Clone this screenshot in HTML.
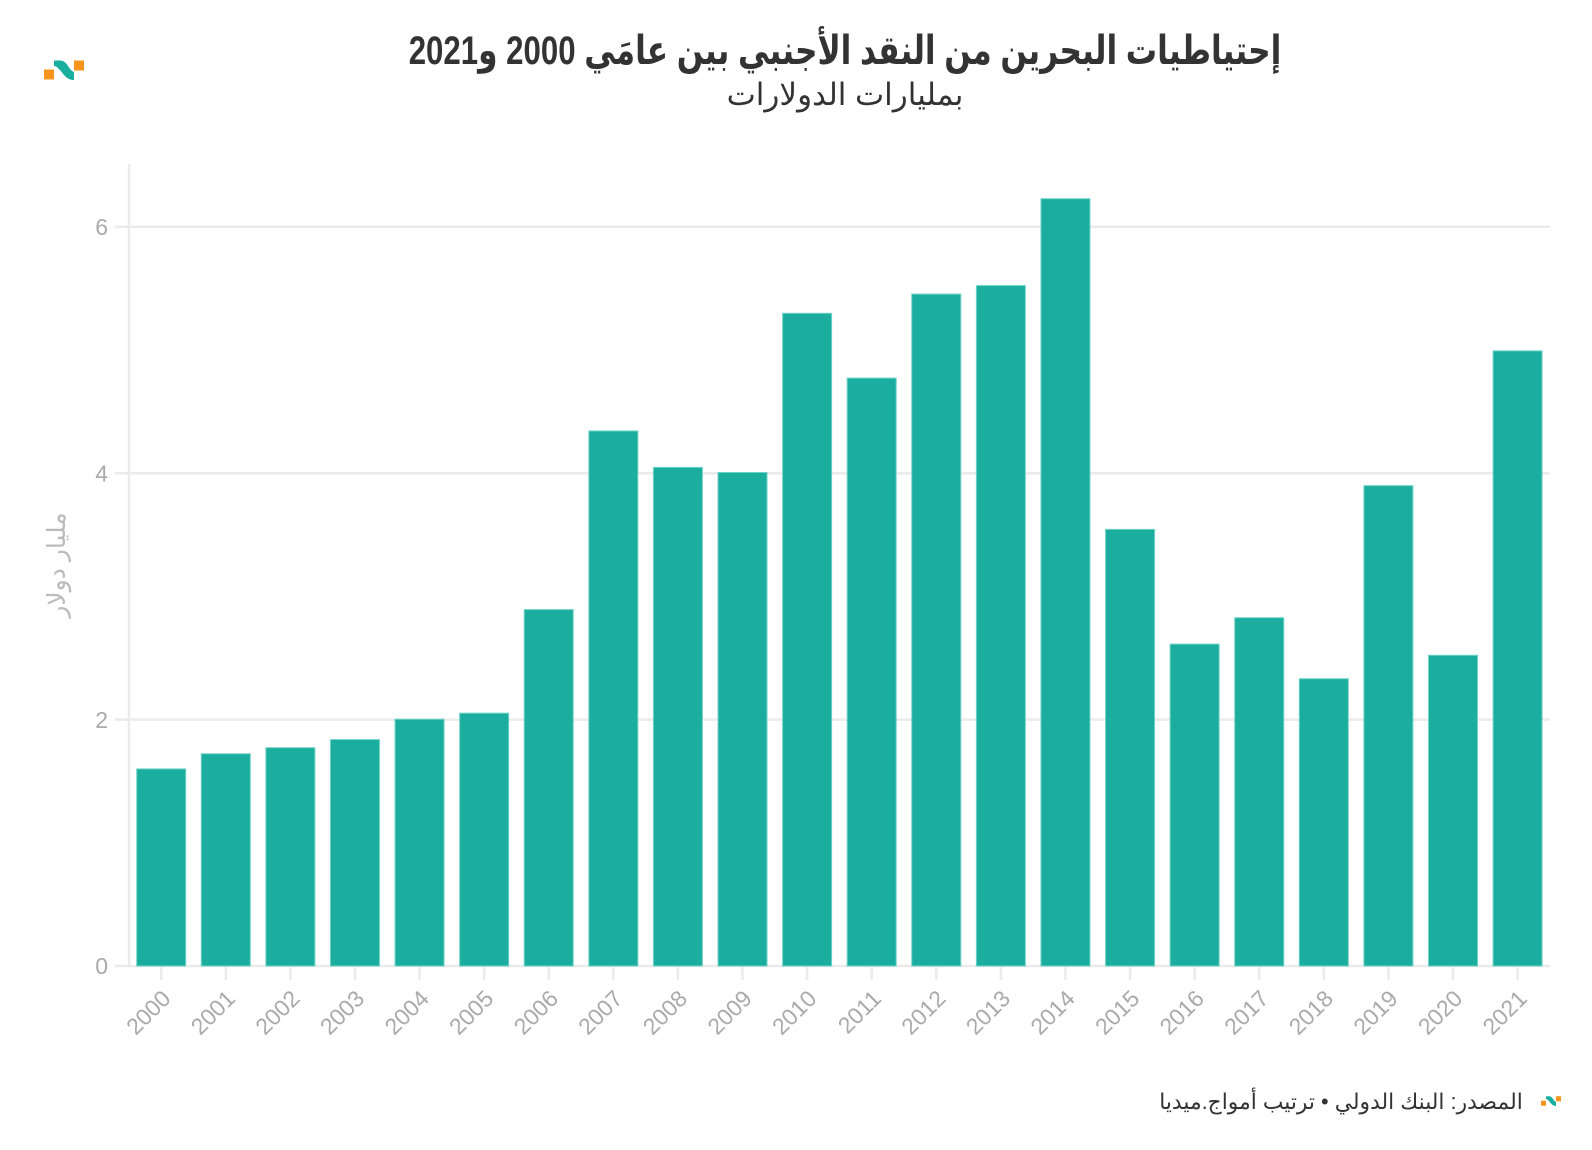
<!DOCTYPE html>
<html><head><meta charset="utf-8"><style>
html,body{margin:0;padding:0;background:#fff;}
svg{display:block;}
</style></head><body>
<svg width="1592" height="1150" viewBox="0 0 1592 1150" xmlns="http://www.w3.org/2000/svg" font-family="'Liberation Sans','DejaVu Sans',sans-serif">
<rect width="1592" height="1150" fill="#fff"/>
<!-- logo -->
<g id="logo">
<rect x="44" y="69.5" width="10" height="10" fill="#f7941d"/>
<rect x="74" y="60.5" width="10" height="10" fill="#f7941d"/>
<path d="M54,60.5 L61,60.5 Q65,61 68,66 Q71,71 74,72 L74,80 Q68,80 64,75 Q61,71 58,68 Q56,66 54,66 Z" fill="#1aae9f"/>
</g>
<g transform="translate(1519,1066) scale(0.5)">
<rect x="44" y="69.5" width="10" height="10" fill="#f7941d"/>
<rect x="74" y="60.5" width="10" height="10" fill="#f7941d"/>
<path d="M54,60.5 L61,60.5 Q65,61 68,66 Q71,71 74,72 L74,80 Q68,80 64,75 Q61,71 58,68 Q56,66 54,66 Z" fill="#1aae9f"/>
</g>
<!-- titles -->
<text transform="translate(845,64) scale(0.78,1)" x="0" y="0" text-anchor="middle" direction="rtl" font-size="40" font-weight="bold" fill="#333">إحتياطيات البحرين من النقد الأجنبي بين عامَي 2000 و2021</text>
<text x="845" y="105" text-anchor="middle" direction="rtl" font-size="31" fill="#333">بمليارات الدولارات</text>
<!-- grid -->
<g stroke="#ebebeb" stroke-width="2.5">
<line x1="115" y1="226.8" x2="1550" y2="226.8"/>
<line x1="115" y1="473.2" x2="1550" y2="473.2"/>
<line x1="115" y1="719.6" x2="1550" y2="719.6"/>
<line x1="115" y1="966" x2="1550" y2="966"/>
<line x1="129" y1="164" x2="129" y2="967"/>
</g>
<g stroke="#ebebeb" stroke-width="2.5">
<line x1="161.2" y1="966" x2="161.2" y2="980"/>
<line x1="225.79" y1="966" x2="225.79" y2="980"/>
<line x1="290.38" y1="966" x2="290.38" y2="980"/>
<line x1="354.97" y1="966" x2="354.97" y2="980"/>
<line x1="419.56" y1="966" x2="419.56" y2="980"/>
<line x1="484.15" y1="966" x2="484.15" y2="980"/>
<line x1="548.74" y1="966" x2="548.74" y2="980"/>
<line x1="613.33" y1="966" x2="613.33" y2="980"/>
<line x1="677.92" y1="966" x2="677.92" y2="980"/>
<line x1="742.51" y1="966" x2="742.51" y2="980"/>
<line x1="807.1" y1="966" x2="807.1" y2="980"/>
<line x1="871.69" y1="966" x2="871.69" y2="980"/>
<line x1="936.28" y1="966" x2="936.28" y2="980"/>
<line x1="1000.87" y1="966" x2="1000.87" y2="980"/>
<line x1="1065.46" y1="966" x2="1065.46" y2="980"/>
<line x1="1130.05" y1="966" x2="1130.05" y2="980"/>
<line x1="1194.64" y1="966" x2="1194.64" y2="980"/>
<line x1="1259.23" y1="966" x2="1259.23" y2="980"/>
<line x1="1323.82" y1="966" x2="1323.82" y2="980"/>
<line x1="1388.41" y1="966" x2="1388.41" y2="980"/>
<line x1="1453" y1="966" x2="1453" y2="980"/>
<line x1="1517.59" y1="966" x2="1517.59" y2="980"/>
</g>
<!-- y labels -->
<g font-size="23" fill="#aaa" text-anchor="end">
<text x="108" y="235">6</text>
<text x="108" y="481.5">4</text>
<text x="108" y="728">2</text>
<text x="108" y="974">0</text>
</g>
<text transform="translate(65,565) rotate(-90)" text-anchor="middle" direction="rtl" font-size="25" fill="#bbb">مليار دولار</text>
<!-- bars -->
<g fill="#1bae9f" stroke="#6fd3c8" stroke-width="1">
<rect x="136.7" y="768.88" width="49" height="197.12"/>
<rect x="201.29" y="753.73" width="49" height="212.27"/>
<rect x="265.88" y="747.69" width="49" height="218.31"/>
<rect x="330.47" y="739.56" width="49" height="226.44"/>
<rect x="395.06" y="719.23" width="49" height="246.77"/>
<rect x="459.65" y="713.19" width="49" height="252.81"/>
<rect x="524.24" y="609.58" width="49" height="356.42"/>
<rect x="588.83" y="430.94" width="49" height="535.06"/>
<rect x="653.42" y="467.41" width="49" height="498.59"/>
<rect x="718.01" y="472.46" width="49" height="493.54"/>
<rect x="782.6" y="313.29" width="49" height="652.71"/>
<rect x="847.19" y="378.09" width="49" height="587.91"/>
<rect x="911.78" y="294.07" width="49" height="671.93"/>
<rect x="976.37" y="285.57" width="49" height="680.43"/>
<rect x="1040.96" y="198.71" width="49" height="767.29"/>
<rect x="1105.55" y="529.38" width="49" height="436.62"/>
<rect x="1170.14" y="644.08" width="49" height="321.92"/>
<rect x="1234.73" y="617.71" width="49" height="348.29"/>
<rect x="1299.32" y="678.7" width="49" height="287.3"/>
<rect x="1363.91" y="485.64" width="49" height="480.36"/>
<rect x="1428.5" y="655.29" width="49" height="310.71"/>
<rect x="1493.09" y="350.86" width="49" height="615.14"/>
</g>
<!-- x labels -->
<g font-size="23" fill="#aaa" text-anchor="end">
<text transform="translate(172,1000) rotate(-45)">2000</text>
<text transform="translate(236.6,1000) rotate(-45)">2001</text>
<text transform="translate(301.2,1000) rotate(-45)">2002</text>
<text transform="translate(365.8,1000) rotate(-45)">2003</text>
<text transform="translate(430.4,1000) rotate(-45)">2004</text>
<text transform="translate(494.9,1000) rotate(-45)">2005</text>
<text transform="translate(559.5,1000) rotate(-45)">2006</text>
<text transform="translate(624.1,1000) rotate(-45)">2007</text>
<text transform="translate(688.7,1000) rotate(-45)">2008</text>
<text transform="translate(753.3,1000) rotate(-45)">2009</text>
<text transform="translate(817.9,1000) rotate(-45)">2010</text>
<text transform="translate(882.5,1000) rotate(-45)">2011</text>
<text transform="translate(947.1,1000) rotate(-45)">2012</text>
<text transform="translate(1011.7,1000) rotate(-45)">2013</text>
<text transform="translate(1076.3,1000) rotate(-45)">2014</text>
<text transform="translate(1140.9,1000) rotate(-45)">2015</text>
<text transform="translate(1205.4,1000) rotate(-45)">2016</text>
<text transform="translate(1270,1000) rotate(-45)">2017</text>
<text transform="translate(1334.6,1000) rotate(-45)">2018</text>
<text transform="translate(1399.2,1000) rotate(-45)">2019</text>
<text transform="translate(1463.8,1000) rotate(-45)">2020</text>
<text transform="translate(1528.4,1000) rotate(-45)">2021</text>
</g>
<!-- footer -->
<text x="1341" y="1109" text-anchor="middle" direction="rtl" font-size="21.8" fill="#333">المصدر: البنك الدولي • ترتيب أمواج.ميديا</text>
</svg>
</body></html>
